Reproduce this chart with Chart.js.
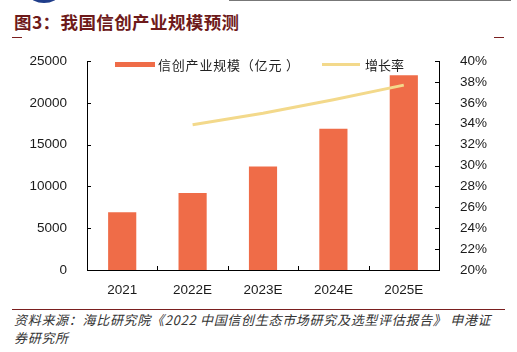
<!DOCTYPE html>
<html>
<head>
<meta charset="utf-8">
<script src="https://cdn.jsdelivr.net/npm/chart.js@4.4.1/dist/chart.umd.min.js"></script>
<style>
  html, body { margin: 0; padding: 0; background: #fff; }
  body { width: 517px; height: 352px; position: relative; overflow: hidden; }
  .abs { position: absolute; }
  #title { left: 14px; top: 9px; font: 700 17.5px "Noto Sans CJK SC", sans-serif; color: #6e1a1a; white-space: nowrap; letter-spacing: 0.4px; }
  .dash { height: 1px; width: 10px; background: #7a1f1f; top: 37px; }
  #logo { left: 30px; top: -12px; width: 28px; height: 15px; border-radius: 50%; background: #1f3d8a; }
  #topline { left: 229px; top: 0; width: 282px; height: 1px; background: #777; }
  #wrap { left: 0; top: 40px; width: 517px; height: 265px; }
  .leg { font: 13px "Noto Sans CJK SC", sans-serif; color: #222; white-space: nowrap; top: 55px; }
  #bottomline { left: 12px; top: 309px; width: 493px; height: 1px; background: #7a1f1f; }
  .src { left: 14px; font: italic 13px "Noto Sans CJK SC", sans-serif; color: #333; white-space: nowrap; letter-spacing: 0.7px; }
</style>
</head>
<body>
<div id="logo" class="abs"></div>
<div id="topline" class="abs"></div>
<div id="title" class="abs">图3：我国信创产业规模预测</div>
<div class="abs dash" style="left:12px"></div>
<div class="abs dash" style="left:494px"></div>
<div id="wrap" class="abs"><canvas id="graph" width="517" height="265"></canvas></div>
<div class="abs" style="left:115px;top:62px;width:40px;height:5px;background:#ef6c48"></div>
<div class="abs leg" style="left:158px;letter-spacing:0.8px">信创产业规模（亿元 ）</div>
<div class="abs" style="left:322px;top:63px;width:38px;height:3px;background:#f3d98b"></div>
<div class="abs leg" style="left:365px">增长率</div>
<div id="bottomline" class="abs"></div>
<div class="abs src" style="top:310px">资料来源：海比研究院《2022 中国信创生态市场研究及选型评估报告》 申港证</div>
<div class="abs src" style="top:328px">券研究所</div>
<script>
"use strict";
const categories = ["2021", "2022E", "2023E", "2024E", "2025E"];
const scaleValues = [6900, 9200, 12400, 16900, 23300];
const growthValues = [null, 33.9, 35.0, 36.3, 37.7];
const leftTicks = [0, 5000, 10000, 15000, 20000, 25000];
const rightTicks = [20, 22, 24, 26, 28, 30, 32, 34, 36, 38, 40];

const tickFont = { family: "Liberation Sans, Arial, sans-serif", size: 13.5 };

// inward tick marks on all three axes
const innerTicks = {
  id: "innerTicks",
  afterDraw(chart) {
    const { ctx, chartArea, scales } = chart;
    ctx.save();
    ctx.strokeStyle = "#000";
    ctx.lineWidth = 1;
    ctx.beginPath();
    leftTicks.forEach((v) => {
      const py = Math.round(scales.y.getPixelForValue(v)) + 0.5;
      ctx.moveTo(chartArea.left, py);
      ctx.lineTo(chartArea.left + 4, py);
    });
    rightTicks.forEach((v) => {
      const py = Math.round(scales.y1.getPixelForValue(v)) + 0.5;
      ctx.moveTo(chartArea.right, py);
      ctx.lineTo(chartArea.right - 4, py);
    });
    for (let i = 1; i < categories.length; i++) {
      const px = Math.round((scales.x.getPixelForValue(i - 1) + scales.x.getPixelForValue(i)) / 2) + 0.5;
      ctx.moveTo(px, chartArea.bottom);
      ctx.lineTo(px, chartArea.bottom - 4);
    }
    ctx.stroke();
    ctx.restore();
  },
};

document.addEventListener("DOMContentLoaded", () => {
  const ctx = document.getElementById("graph").getContext("2d");
  new Chart(ctx, {
    type: "bar",
    data: {
      labels: categories,
      datasets: [
        {
          type: "line",
          label: "增长率",
          data: growthValues,
          yAxisID: "y1",
          borderColor: "#f3d98b",
          borderWidth: 3,
          pointRadius: 0,
          tension: 0,
          order: 0,
        },
        {
          label: "信创产业规模（亿元）",
          data: scaleValues,
          yAxisID: "y",
          backgroundColor: "#ef6c48",
          barPercentage: 0.4,
          categoryPercentage: 1.0,
          order: 1,
        },
      ],
    },
    options: {
      responsive: false,
      animation: false,
      layout: { padding: { top: 20, bottom: 0, left: 0, right: 0 } },
      plugins: { legend: { display: false }, tooltip: { enabled: false } },
      scales: {
        x: {
          grid: { display: false },
          border: { display: true, color: "#000", width: 1 },
          ticks: { color: "#1a1a1a", font: tickFont, padding: 4, maxRotation: 0 },
          afterFit(s) { s.height = 35; },
        },
        y: {
          position: "left",
          min: 0,
          max: 25000,
          grid: { display: false },
          border: { display: true, color: "#000", width: 1 },
          ticks: { stepSize: 5000, color: "#1a1a1a", font: tickFont, padding: 12, callback: (v) => String(v) },
          afterFit(s) { s.width = 87; },
        },
        y1: {
          position: "right",
          min: 20,
          max: 40,
          grid: { display: false },
          border: { display: true, color: "#000", width: 1 },
          ticks: { stepSize: 2, color: "#1a1a1a", font: tickFont, padding: 13, callback: (v) => v + "%" },
          afterFit(s) { s.width = 78; },
        },
      },
    },
    plugins: [innerTicks],
  });
});
</script>
</body>
</html>
